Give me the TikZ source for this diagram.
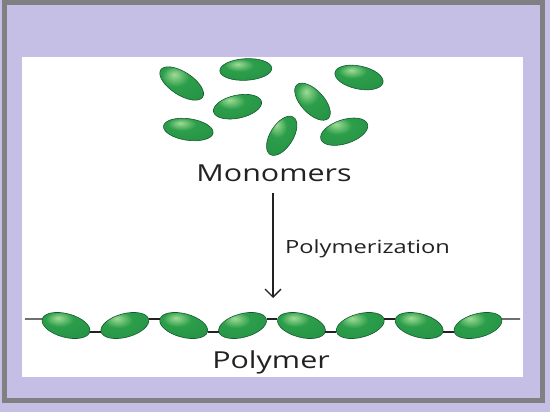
\documentclass[tikz,border=0pt]{standalone}
\usepackage{fontspec}
\setmainfont{Open Sans}
\usetikzlibrary{shapes.geometric,arrows.meta}
\definecolor{lav}{RGB}{197,191,229}
\definecolor{framegray}{RGB}{128,128,130}
\definecolor{beaddark}{RGB}{16,105,52}
\definecolor{beadmid}{RGB}{44,158,74}
\definecolor{beadhl}{RGB}{160,220,150}
\definecolor{beadline}{RGB}{18,90,48}
\definecolor{ink}{RGB}{34,34,34}
\pgfdeclareradialshading{bead}{\pgfpoint{-8bp}{12bp}}{color(0bp)=(beadhl); color(14bp)=(beadmid); color(34bp)=(beadmid!80!beaddark); color(46bp)=(beaddark); color(70bp)=(beaddark)}
\tikzset{
  bead/.style={shape=ellipse, inner sep=0pt, draw=beadline, line width=0.6pt, shading=bead},
  chainbead/.style={bead, minimum width=49.2pt, minimum height=23.6pt},
  lbl/.style={text=ink, inner sep=0pt, anchor=base},
  bond/.style={draw=ink, line width=1.3pt},
}
\begin{document}
\begin{tikzpicture}[x=1pt,y=-1pt]
\useasboundingbox (0,0) rectangle (550,412);
\fill[lav] (0,0) rectangle (550,412);
\draw[framegray, line width=5pt] (4.5,2.5) rectangle (542.5,400);
\fill[white] (22,57) rectangle (523,377);
% monomers
\node[bead, minimum width=50pt, minimum height=23pt, rotate=-33] (m1) at (181.7,83.5) {};
\node[bead, minimum width=52pt, minimum height=21.6pt, rotate=3] (m2) at (245.8,69.5) {};
\node[bead, minimum width=49pt, minimum height=23pt, rotate=-12] (m3) at (359,77.5) {};
\node[bead, minimum width=49pt, minimum height=23pt, rotate=12] (m4) at (237.5,106.7) {};
\node[bead, minimum width=46pt, minimum height=23pt, rotate=-47] (m5) at (312.5,101.7) {};
\node[bead, minimum width=50pt, minimum height=21.6pt, rotate=-8] (m6) at (188.3,129.5) {};
\node[bead, minimum width=44pt, minimum height=23pt, rotate=58] (m7) at (281.7,135.8) {};
\node[bead, minimum width=49pt, minimum height=24pt, rotate=18] (m8) at (344.2,131.7) {};
\node[lbl, font=\fontsize{23.4}{28}\selectfont] (mono) at (274,181.7) {\scalebox{1.3}[1]{Monomers}};
% arrow
\coordinate (atop) at (273,193);
\coordinate (abot) at (273,298);
\draw[ink, line width=1.4pt, -{Straight Barb[length=8pt,width=16pt,line width=1.4pt]}] (atop) -- (abot);
\node[lbl, anchor=base west, font=\fontsize{18.2}{22}\selectfont] (poly) at (285,254) {\scalebox{1.3}[1]{Polymerization}};
% polymer chain
\foreach \i/\r in {1/-15,2/15,3/-15,4/15,5/-15,6/15,7/-15,8/15}{
  \node[chainbead, rotate=\r] (p\i) at ({66+58.857*(\i-1)},325.5) {};
}
\coordinate (cl) at (25,319);
\coordinate (cr) at (520,319);
\draw[bond] (cl) -- (p1.west);
\foreach \a/\b in {1/2,2/3,3/4,4/5,5/6,6/7,7/8}{
  \draw[bond] (p\a.east) -- (p\b.west);
}
\draw[bond] (p8.east) -- (cr);
\node[lbl, font=\fontsize{23.4}{28}\selectfont] (pol) at (271,368.3) {\scalebox{1.3}[1]{Polymer}};
\end{tikzpicture}
\end{document}
